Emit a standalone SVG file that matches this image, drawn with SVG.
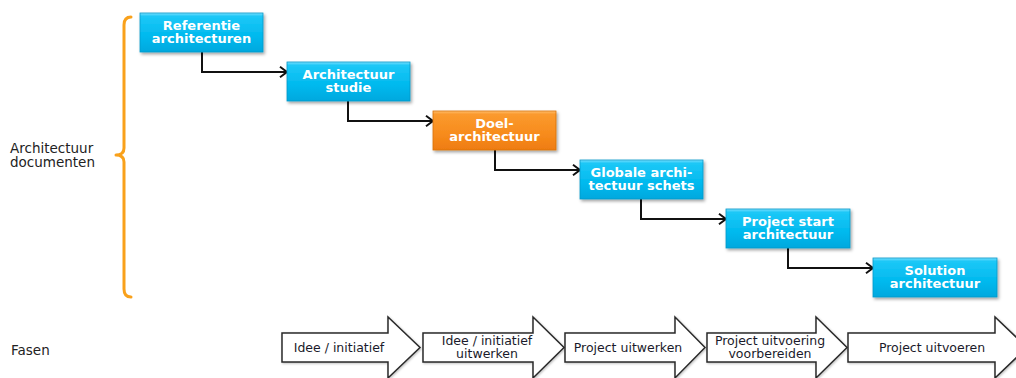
<svg xmlns="http://www.w3.org/2000/svg" width="1016" height="378" viewBox="0 0 1016 378">
  <defs>
    <linearGradient id="gradBlue" x1="0" y1="0" x2="0" y2="1">
      <stop offset="0" stop-color="#7fe0ff"/>
      <stop offset="0.08" stop-color="#1cc8f7"/>
      <stop offset="0.6" stop-color="#00b9ee"/>
      <stop offset="1" stop-color="#00a8de"/>
    </linearGradient>
    <linearGradient id="gradOrange" x1="0" y1="0" x2="0" y2="1">
      <stop offset="0" stop-color="#ffc070"/>
      <stop offset="0.08" stop-color="#fb9a2e"/>
      <stop offset="0.6" stop-color="#f78b1c"/>
      <stop offset="1" stop-color="#ee7c10"/>
    </linearGradient>
    <filter id="shadow" x="-10%" y="-20%" width="125%" height="150%">
      <feDropShadow dx="1.5" dy="2" stdDeviation="1.5" flood-color="#000" flood-opacity="0.35"/>
    </filter>
    <filter id="softShadow" x="-10%" y="-10%" width="125%" height="130%">
      <feDropShadow dx="1" dy="1" stdDeviation="1" flood-color="#000" flood-opacity="0.25"/>
    </filter>
    <marker id="chevron" viewBox="0 0 12 12" refX="11" refY="6" markerWidth="12" markerHeight="12" markerUnits="userSpaceOnUse" orient="auto">
      <path d="M4,0.8 L11,6 L4,11.2" fill="none" stroke="#111" stroke-width="2" stroke-linejoin="miter"/>
    </marker>
  </defs>
  <style>
    .box { stroke: #0898c8; stroke-width: 0.8; filter: url(#shadow); }
    .blue { fill: url(#gradBlue); }
    .orange { fill: url(#gradOrange); stroke: #d8700c; }
    .boxText { font-family: "DejaVu Sans", Verdana, sans-serif; font-weight: bold; font-size: 13px; fill: #ffffff; text-anchor: middle; }
    .conn { fill: none; stroke: #111; stroke-width: 2; marker-end: url(#chevron); }
    .label { font-family: "DejaVu Sans", Verdana, sans-serif; font-size: 13.5px; fill: #222; }
    .phase { fill: #ffffff; stroke: #2a2a2a; stroke-width: 1.5; stroke-linejoin: miter; filter: url(#softShadow); }
    .phaseText { font-family: "DejaVu Sans", Verdana, sans-serif; font-size: 12.5px; fill: #1a1a2a; text-anchor: middle; }
    .brace { fill: none; stroke: #f9a11b; stroke-width: 3; stroke-linecap: round; stroke-linejoin: round; }
  </style>

  <!-- side labels and brace -->
  <text class="label" x="10" y="153">Architectuur</text>
  <text class="label" x="10" y="167">documenten</text>
  <text class="label" x="11" y="355">Fasen</text>
  <path class="brace" d="M131,17 Q124,17 124,25 L124,148 Q124,155 116,155 Q124,155 124,162 L124,289 Q124,297 131,297"/>

  <!-- connectors -->
  <g id="connectors">
    <path class="conn" d="M202,52 V72 H287"/>
    <path class="conn" d="M348,101 V121 H433"/>
    <path class="conn" d="M495,150 V170 H580"/>
    <path class="conn" d="M641,199 V219 H726"/>
    <path class="conn" d="M788,248 V268 H873"/>
  </g>

  <!-- document nodes -->
  <g id="node-referentie">
    <rect class="box blue" x="140" y="13" width="123" height="39"/>
    <text class="boxText" x="201.5" y="30">Referentie</text>
    <text class="boxText" x="201.5" y="43">architecturen</text>
  </g>
  <g id="node-studie">
    <rect class="box blue" x="287" y="62" width="123" height="39"/>
    <text class="boxText" x="348.5" y="79">Architectuur</text>
    <text class="boxText" x="348.5" y="92">studie</text>
  </g>
  <g id="node-doel">
    <rect class="box orange" x="433" y="111" width="123" height="39"/>
    <text class="boxText" x="494.5" y="128">Doel-</text>
    <text class="boxText" x="494.5" y="141">architectuur</text>
  </g>
  <g id="node-globale">
    <rect class="box blue" x="580" y="160" width="123" height="39"/>
    <text class="boxText" x="641.5" y="177">Globale archi-</text>
    <text class="boxText" x="641.5" y="190">tectuur schets</text>
  </g>
  <g id="node-projectstart">
    <rect class="box blue" x="726" y="209" width="124" height="39"/>
    <text class="boxText" x="788" y="226">Project start</text>
    <text class="boxText" x="788" y="239">architectuur</text>
  </g>
  <g id="node-solution">
    <rect class="box blue" x="873" y="258" width="124" height="39"/>
    <text class="boxText" x="935" y="275">Solution</text>
    <text class="boxText" x="935" y="288">architectuur</text>
  </g>

  <!-- phase arrows -->
  <g id="phase-idee">
    <path class="phase" d="M282,333 H388 V317 L420,347.5 L388,378 V362 H282 Z"/>
    <text class="phaseText" x="339" y="352">Idee / initiatief</text>
  </g>
  <g id="phase-uitwerken">
    <path class="phase" d="M423,333 H533 V317 L564,347.5 L533,378 V362 H423 Z"/>
    <text class="phaseText" x="487" y="345">Idee / initiatief</text>
    <text class="phaseText" x="487" y="358">uitwerken</text>
  </g>
  <g id="phase-project-uitwerken">
    <path class="phase" d="M565,333 H675 V317 L705,347.5 L675,378 V362 H565 Z"/>
    <text class="phaseText" x="628" y="352">Project uitwerken</text>
  </g>
  <g id="phase-voorbereiden">
    <path class="phase" d="M707,333 H816 V317 L847,347.5 L816,378 V362 H707 Z"/>
    <text class="phaseText" x="770" y="345">Project uitvoering</text>
    <text class="phaseText" x="770" y="358">voorbereiden</text>
  </g>
  <g id="phase-uitvoeren">
    <path class="phase" d="M848,333 H995 V317 L1027,347.5 L995,378 V362 H848 Z"/>
    <text class="phaseText" x="932" y="352">Project uitvoeren</text>
  </g>
</svg>
